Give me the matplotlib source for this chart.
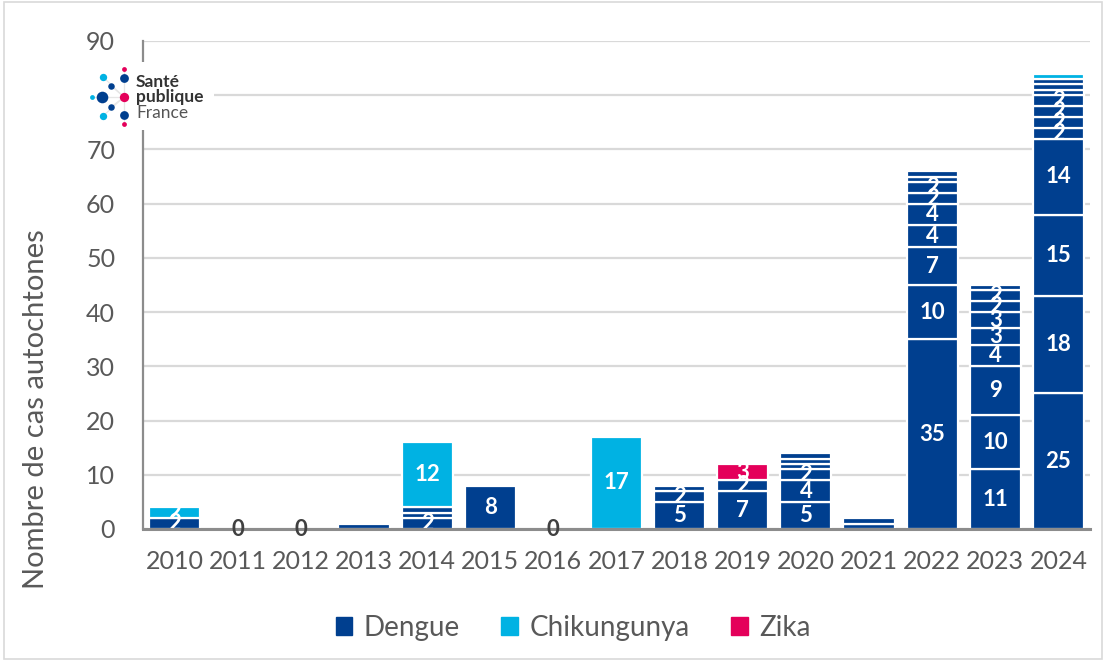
import matplotlib
matplotlib.use("Agg")
import matplotlib.pyplot as plt
from matplotlib.patches import Rectangle, Patch

years = ["2010", "2011", "2012", "2013", "2014", "2015", "2016", "2017",
         "2018", "2019", "2020", "2021", "2022", "2023", "2024"]
# episode sizes (stacked segments) per year
dengue = [[2], [], [], [1], [2, 1, 1], [8], [], [],
          [5, 2, 1], [7, 2], [5, 4, 2, 1, 1, 1], [1, 1],
          [35, 10, 7, 4, 4, 2, 2, 1, 1],
          [11, 10, 9, 4, 3, 3, 2, 2, 1],
          [25, 18, 15, 14, 2, 2, 2, 2, 1, 1, 1]]
chik = [[2], [], [], [], [12], [], [], [17], [], [], [], [], [], [], [1]]
zika = [[], [], [], [], [], [], [], [], [], [3], [], [], [], [], []]
zero_years = ["2011", "2012", "2016"]

C_DEN = "#003F8F"
C_CHIK = "#00B2E3"
C_ZIKA = "#E4005A"
GRAY = "#595959"

plt.rcParams['font.family'] = ['Lato', 'DejaVu Sans']

fig = plt.figure(figsize=(11.06, 6.61), dpi=100)
W, H = 1106, 661
ax = fig.add_axes([143 / W, 1 - 529 / H, (1090 - 143) / W, (529 - 41) / H])

x = range(len(years))
width = 0.81
for i in x:
    bottom = 0
    for series, col in ((dengue, C_DEN), (chik, C_CHIK), (zika, C_ZIKA)):
        for v in series[i]:
            ax.bar(i, v, width, bottom=bottom, color=col, edgecolor="white",
                   linewidth=1.6, zorder=3)
            if v >= 2:
                ax.text(i, bottom + v / 2, str(v), ha="center", va="center",
                        color="white", fontsize=16, fontweight="bold", zorder=4)
            bottom += v
    if years[i] in zero_years:
        ax.text(i, 0, "0", ha="center", va="center", color="#404040",
                fontsize=16, fontweight="bold", zorder=5)

ax.set_xlim(-0.5, len(years) - 0.5)
ax.set_ylim(0, 90)
ax.set_yticks(range(0, 91, 10))
ax.set_xticks(list(x))
ax.set_xticklabels(years)
ax.tick_params(axis="both", length=0, labelsize=18, colors=GRAY)
ax.tick_params(axis="x", pad=15)
ax.tick_params(axis="y", pad=20)
ax.yaxis.grid(True, color="#D9D9D9", linewidth=1.6, zorder=0)
ax.set_axisbelow(True)
for s in ("top", "right"):
    ax.spines[s].set_visible(False)
ax.spines["left"].set_color("#8C8C8C")
ax.spines["left"].set_linewidth(1.6)
ax.spines["bottom"].set_color("#8C8C8C")
ax.spines["bottom"].set_linewidth(2.2)
ax.spines["bottom"].set_zorder(4)
ax.set_ylabel("Nombre de cas autochtones", fontsize=21, color=GRAY)
ax.yaxis.set_label_coords(-0.099, 0.246)

# legend
handles = [Patch(color=C_DEN, label="Dengue"), Patch(color=C_CHIK, label="Chikungunya"),
           Patch(color=C_ZIKA, label="Zika")]
leg = fig.legend(handles=handles, loc="center", bbox_to_anchor=(573 / W, 1 - 628 / H),
                 ncol=3, frameon=False, fontsize=20, handlelength=0.6, handleheight=0.6,
                 handletextpad=0.4, columnspacing=1.5)
for t in leg.get_texts():
    t.set_color(GRAY)

# logo (Santé publique France)
lax = fig.add_axes([86 / W, 1 - 130 / H, (214 - 86) / W, (130 - 62) / H])
lax.set_xlim(86, 214)
lax.set_ylim(130, 62)
lax.set_facecolor("white")
for s in lax.spines.values():
    s.set_visible(False)
lax.set_xticks([])
lax.set_yticks([])
lax.set_zorder(10)
dots = [(124, 69, 12, C_ZIKA), (124, 78, 40, C_DEN), (103, 77, 28, C_CHIK),
        (111, 86, 22, C_DEN), (92, 97, 12, C_CHIK), (102, 97, 70, C_DEN),
        (124, 97, 45, C_ZIKA), (111, 107, 22, C_DEN), (103, 116, 28, C_CHIK),
        (124, 115, 40, C_DEN), (124, 124, 12, C_ZIKA)]
for (px, py, _, _) in dots:
    lax.plot([124, px], [97, py], color="#E6E6E6", linewidth=0.8, zorder=1)
for (px, py, s, c) in dots:
    lax.scatter(px, py, s=s, color=c, zorder=2, linewidths=0)
lax.text(136, 82, "Santé", fontsize=12.5, fontweight="bold", color="#333333", va="center")
lax.text(136, 97, "publique", fontsize=12.5, fontweight="bold", color="#333333", va="center")
lax.text(136, 113, "France", fontsize=12.5, color="#555555", va="center")

# outer frame
fig.patches.append(Rectangle((0.004, 0.003), 0.992, 0.994, transform=fig.transFigure,
                             fill=False, edgecolor="#D9D9D9", linewidth=1.2))

fig.savefig("out.png", dpi=100)
